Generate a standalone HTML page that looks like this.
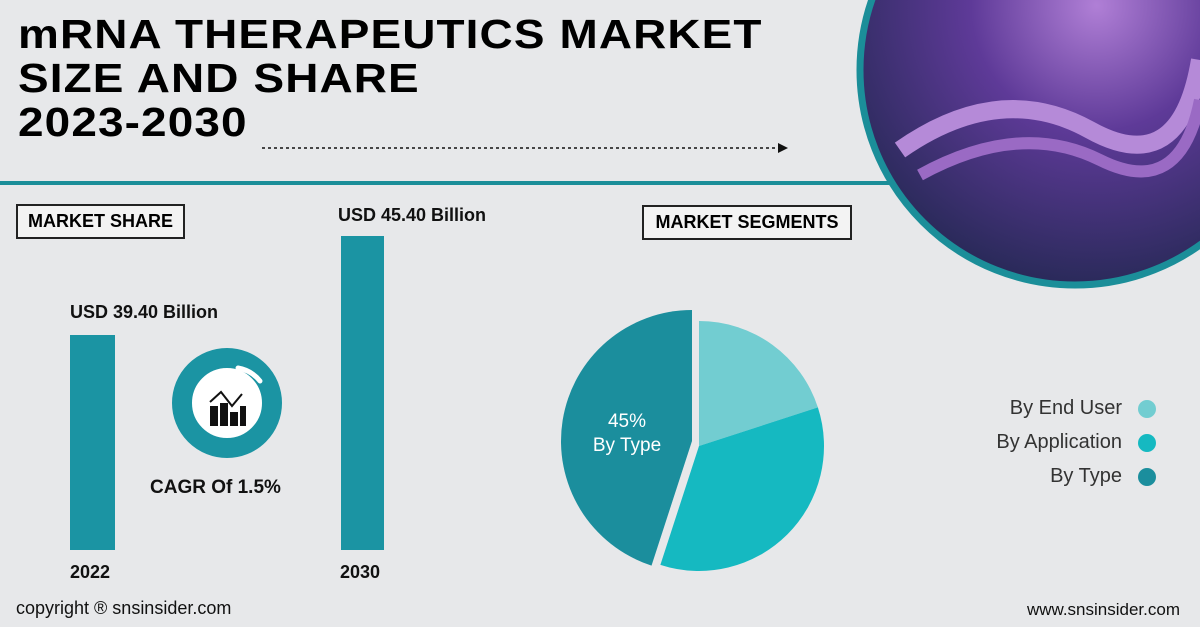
<!DOCTYPE html>
<html><head><meta charset="utf-8"><style>
body{margin:0;width:1200px;height:627px;overflow:hidden;background:#e7e8ea;font-family:"Liberation Sans",sans-serif;position:relative}
.abs{position:absolute}
.title{left:18px;top:12px;font-size:41px;font-weight:bold;line-height:44px;color:#000;letter-spacing:1px;transform:scaleX(1.12);transform-origin:0 0;white-space:nowrap}
.box{border:2px solid #222;font-weight:bold;font-size:18px;padding:5px 10px;background:#f3f3f3}
.lbl{font-weight:bold;font-size:18px;color:#111}
.bar{background:#1b94a3}
.leg{font-size:20px;color:#333;text-align:right;right:78px}
.dot{width:18px;height:18px;border-radius:50%;right:44px}
</style></head><body>
<div class="abs title">mRNA THERAPEUTICS MARKET<br>SIZE AND SHARE<br>2023-2030</div>
<svg class="abs" style="left:0;top:0" width="1200" height="627">
<line x1="262" y1="148" x2="778" y2="148" stroke="#111" stroke-width="1.5" stroke-dasharray="3,3"/>
<polygon points="778,143 788,148 778,153" fill="#111"/>
<rect x="0" y="181" width="895" height="4" fill="#1b8e99"/>
<defs><radialGradient id="g" cx="0.55" cy="0.35" r="0.65"><stop offset="0" stop-color="#b07fd6"/><stop offset="0.45" stop-color="#5e3a98"/><stop offset="1" stop-color="#2a2a5a"/></radialGradient></defs>
<circle cx="1075" cy="70" r="215" fill="url(#g)" stroke="#1b8e99" stroke-width="7"/>
<path d="M900,150 Q1000,80 1090,130 T1200,60" stroke="#b58ad8" stroke-width="18" fill="none"/>
<path d="M920,175 Q1020,120 1100,160 T1200,100" stroke="#9a6ac4" stroke-width="12" fill="none"/>
</svg>
<div class="abs box" style="left:16px;top:204px">MARKET SHARE</div>
<div class="abs box" style="left:642px;top:205px;width:186px;text-align:center">MARKET SEGMENTS</div>
<div class="abs lbl" style="left:70px;top:302px">USD 39.40 Billion</div>
<div class="abs lbl" style="left:338px;top:205px">USD 45.40 Billion</div>
<div class="abs bar" style="left:70px;top:335px;width:45px;height:215px"></div>
<div class="abs bar" style="left:341px;top:236px;width:43px;height:314px"></div>
<div class="abs lbl" style="left:70px;top:562px">2022</div>
<div class="abs lbl" style="left:340px;top:562px">2030</div>
<svg class="abs" style="left:170px;top:344px" width="120" height="120">
<circle cx="57" cy="59" r="45" fill="#fff" stroke="#1b94a3" stroke-width="20"/>
<path d="M68,24 A36,36 0 0 1 90,37" stroke="#fff" stroke-width="5" fill="none" stroke-linecap="round"/>
<rect x="40" y="62" width="8" height="20" fill="#111"/><rect x="50" y="59" width="8" height="23" fill="#111"/><rect x="60" y="68" width="8" height="14" fill="#111"/><rect x="70" y="62" width="6" height="20" fill="#111"/>
<polyline points="40,58 51,48 62,62 72,50" stroke="#111" stroke-width="2" fill="none"/>
</svg>
<div class="abs lbl" style="left:150px;top:477px;font-size:19px">CAGR Of 1.5%</div>
<svg id="pie" class="abs" style="left:540px;top:300px" width="300" height="280"></svg>
<div class="abs leg" style="top:397px">By End User</div>
<div class="abs leg" style="top:431px">By Application</div>
<div class="abs leg" style="top:465px">By Type</div>
<div class="abs dot" style="top:400px;background:#72cdd1"></div>
<div class="abs dot" style="top:434px;background:#15b9c1"></div>
<div class="abs dot" style="top:468px;background:#1b8e9d"></div>
<div class="abs" style="left:16px;top:598px;font-size:18px;color:#111">copyright ® snsinsider.com</div>
<div class="abs" style="right:20px;top:600px;font-size:17px;color:#111">www.snsinsider.com</div>
<script>
const segments=["By End User","By Application","By Type"];
const shares=[20,35,45];
const colors=["#72cdd1","#15b9c1","#1b8e9d"];
const svg=document.getElementById('pie');const NS="http://www.w3.org/2000/svg";
const total=shares.reduce((a,b)=>a+b,0);
let start=0;
shares.forEach((v,i)=>{
 const a0=start/total*2*Math.PI,a1=(start+v)/total*2*Math.PI;start+=v;
 const last=i===shares.length-1;
 const cx=last?152:159,cy=last?141:146,r=last?131:125;
 const x0=cx+r*Math.sin(a0),y0=cy-r*Math.cos(a0),x1=cx+r*Math.sin(a1),y1=cy-r*Math.cos(a1);
 const p=document.createElementNS(NS,'path');
 p.setAttribute('d',`M${cx},${cy}L${x0},${y0}A${r},${r} 0 ${a1-a0>Math.PI?1:0} 1 ${x1},${y1}Z`);
 p.setAttribute('fill',colors[i]);
 
 
 svg.appendChild(p);
 if(last){
  const t=document.createElementNS(NS,'text');t.setAttribute('x',85);t.setAttribute('y',127);t.setAttribute('text-anchor','middle');t.setAttribute('fill','#fff');t.setAttribute('font-size','19');t.setAttribute('font-family','Liberation Sans, sans-serif');
  t.innerHTML=`<tspan x="87">${v}%</tspan><tspan x="87" dy="24">${segments[i]}</tspan>`;
  
  
  svg.appendChild(t);
 }
});
</script>
</body></html>
